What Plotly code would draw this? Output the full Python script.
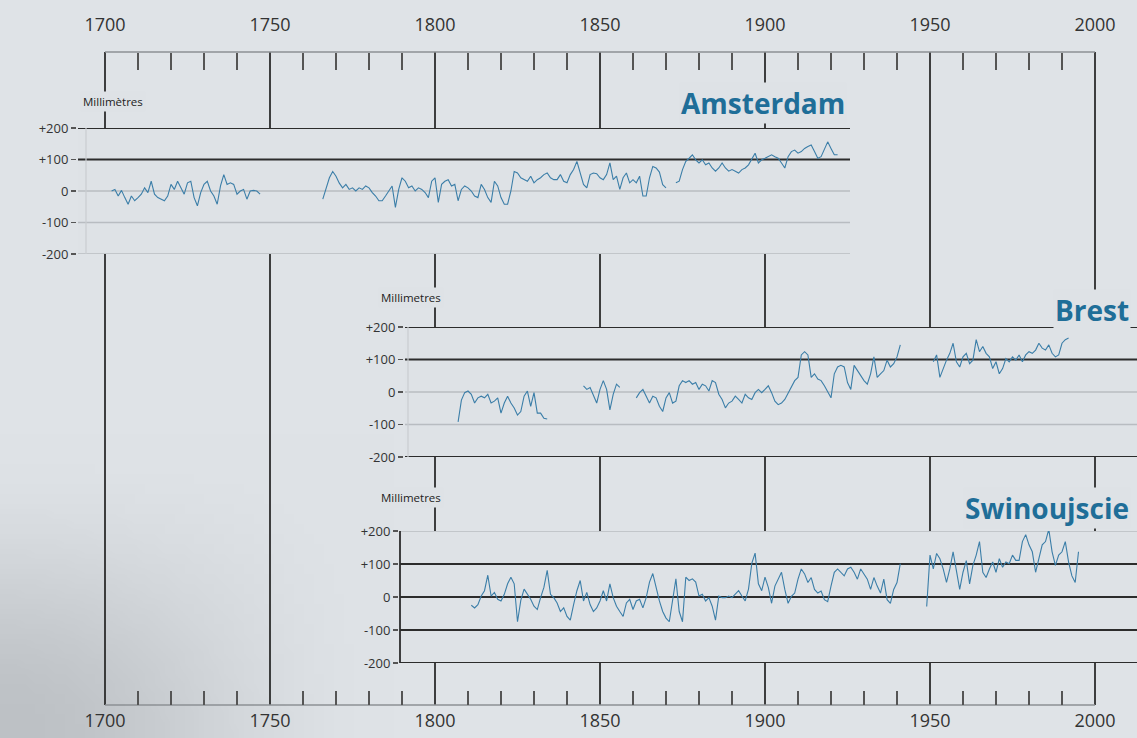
import base64
import struct
import zlib
import plotly.graph_objects as go

# ---------------- data ----------------
MAJOR_YEARS = [1700, 1750, 1800, 1850, 1900, 1950, 2000]
MINOR_YEARS = [y for y in range(1710, 2000, 10) if y % 50 != 0]
Y_TICKS = [200, 100, 0, -100, -200]
Y_TICK_LABELS = ["+200", "+100", "0", "-100", "-200"]

AMS_START = [1702, 1766, 1873]
AMS_VALUES = [
    [0, 5, -16, 2, -21, -42, -16, -31, -21, -10, 10, -5, 31, -10, -21, -26, -31, -16, 21, 5,
     31, 10, -10, 26, 31, -21, -47, -5, 21, 31, 0, -16, -42, 16, 52, 21, 26, 21, -10, 0,
     5, -26, 0, 2, 0, -10],
    [-26, 10, 42, 62, 47, 25, 10, 21, 5, 10, 0, 10, 5, 16, 10, -5, -16, -31, -31, -16,
     0, 16, -52, 5, 42, 31, 10, 16, 0, 10, 5, -5, -21, 31, 42, -36, 21, 31, 36, 16,
     21, -31, 5, 16, 10, 0, -16, -21, 21, 5, -21, -36, 31, 16, -21, -42, -42, 0, 62, 57,
     42, 36, 31, 47, 26, 36, 42, 52, 57, 42, 36, 36, 52, 31, 26, 52, 68, 94, 57, 21,
     10, 52, 57, 55, 42, 36, 52, 89, 36, 47, 5, 42, 57, 26, 36, 26, 47, -16, -16, 42,
     78, 73, 60, 20, 10],
    [26, 31, 68, 94, 104, 115, 99, 89, 99, 83, 89, 73, 63, 73, 89, 73, 63, 68, 63, 57,
     68, 73, 83, 104, 120, 89, 99, 104, 109, 115, 109, 104, 89, 73, 109, 125, 130, 120, 125, 135,
     141, 146, 125, 104, 109, 135, 156, 135, 115, 115],
]

BREST_START = [1807, 1845, 1861, 1951]
BREST_VALUES = [
    [-92, -25, -2, 3, -7, -34, -18, -13, -18, -7, -34, -28, -18, -65, -34, -13, -34, -49, -71, -60,
     -13, 3, -44, -2, -65, -65, -81, -83],
    [19, 8, 14, -13, -34, 8, 35, 8, -55, -7, 24, 14],
    [-18, -2, 8, -13, -34, -13, -18, -44, -60, -18, -2, -34, -28, 19, 35, 29, 35, 24, 29, 8,
     24, 19, 3, 35, 29, -7, -23, -49, -34, -28, -13, -23, -34, -7, -18, -23, -2, 8,
     -2, 8, 19, -2, -28, -39, -34, -23, -2, 19, 35, 45, 114, 124, 114, 45, 56, 40, 35, 19,
     -2, -18, 56, 77, 82, 77, 29, 8, 82, 66, 51, 35, 24, 56, 108, 45, 56, 66, 98, 77,
     87, 108, 145],
    [93, 114, 45, 72, 98, 119, 150, 93, 77, 108, 119, 87, 98, 161, 124, 140, 119, 108, 72, 93,
     56, 72, 103, 93, 108, 98, 114, 93, 114, 124, 119, 129, 150, 135, 129, 145, 119, 108, 114, 150,
     161, 166],
]

SWIN_START = [1811, 1949]
SWIN_VALUES = [
    [-25, -33, -23, 3, 19, 66, 3, 14, -7, -12, 8, 40, 60, 40, -75, -10, 24, 8, -7, -28,
     -38, -2, 29, 81, 8, -2, -18, -44, -33, -59, -70, -23, 19, 50, -12, 14, -23, -44, -33, -12,
     19, -12, 40, -2, -28, -44, -59, -18, -7, -38, -12, -7, -33, -2, 45, 71, 29, -12, -44, -64,
     -75, -2, 55, -44, -75, 60, 50, 55, 45, 3, 8, -12, -2, -28, -70, 3, -2, -2, 3, -2,
     8, 19, 3, -12, 24, 102, 133, 40, 19, 60, 29,
     -19, 33, 54, 75, 23, -19, 2, 12, 54, 85, 70, 44, 59, 23, 12, 18, -8, -14, 33, 75,
     85, 75, 64, 85, 90, 75, 54, 85, 70, 54, 23, 59, 33, 12, 54, -8, -19, 23, 44, 101],
    [-29, 127, 85, 132, 116, 85, 44, 85, 137, 75, 23, 75, 110, 40, 96, 127, 168, 75, 59, 85,
     106, 75, 116, 90, 106, 101, 127, 111, 111, 168, 189, 158, 137, 75, 116, 158, 168, 205, 137, 96,
     127, 137, 168, 106, 64, 44, 137],
]

AMS_DARK = [200, 100]
BREST_DARK = [200, 100, -200]
SWIN_DARK = [100, 0, -100, -200]

# ---------------- styling / layout ----------------
W, H = 1137, 738
BG = "#dee2e6"
DARK = "#2c2c2c"
LIGHT = "#b8bcc1"
SERIES = "#3b7ea8"
TITLE = "#1f6e98"
FONT = "Open Sans"

PX_PER_YEAR = 3.3
X_RANGE = [1700 - 105 / PX_PER_YEAR, 2000 + (W - 1095) / PX_PER_YEAR]


def px(x):
    return x / W


def py(y):
    return 1 - y / H


def build(starts, values):
    xs, ys = [], []
    for s, vals in zip(starts, values):
        if xs:
            xs.append(None)
            ys.append(None)
        xs.extend(range(s, s + len(vals)))
        ys.extend(vals)
    return xs, ys


def smooth(a, b, t):
    t = max(0.0, min(1.0, (t - a) / (b - a)))
    return t * t * (3 - 2 * t)


def png_uri(w, h):
    base = (223, 227, 231)
    rows = []
    for j in range(h):
        row = bytearray([0])
        v = j / (h - 1)
        for i in range(w):
            u = i / (w - 1)
            d = smooth(0.6, 1.0, v) * (1 - smooth(0.0, 0.34, u)) * 34
            row.extend(int(c - d) for c in base)
        rows.append(bytes(row))
    raw = b"".join(rows)

    def chunk(tag, data):
        c = struct.pack(">I", len(data)) + tag + data
        return c + struct.pack(">I", zlib.crc32(tag + data) & 0xFFFFFFFF)

    png = (b"\x89PNG\r\n\x1a\n"
           + chunk(b"IHDR", struct.pack(">IIBBBBB", w, h, 8, 2, 0, 0, 0))
           + chunk(b"IDAT", zlib.compress(raw, 9))
           + chunk(b"IEND", b""))
    return "data:image/png;base64," + base64.b64encode(png).decode()


panels = [
    ("Amsterdam", AMS_START, AMS_VALUES, "y", 78, 850, 128, 254, AMS_DARK),
    ("Brest", BREST_START, BREST_VALUES, "y2", 405, 1137, 327, 457, BREST_DARK),
    ("Swinoujscie", SWIN_START, SWIN_VALUES, "y3", 400, 1137, 531, 663, SWIN_DARK),
]

fig = go.Figure()
shapes = []

for yr in MAJOR_YEARS:
    shapes.append(dict(type="line", xref="x", yref="paper", x0=yr, x1=yr,
                       y0=py(705), y1=py(52), line=dict(color=DARK, width=1.8), layer="below"))
for yy in (52, 705):
    shapes.append(dict(type="line", xref="x", yref="paper", x0=1700, x1=2000,
                       y0=py(yy), y1=py(yy), line=dict(color="#8c9094", width=1.5), layer="below"))

layout_axes = {}
for idx, (name, starts, vals, yax, x0, x1, ytop, ybot, dark) in enumerate(panels):
    xs, ys = build(starts, vals)
    fig.add_trace(go.Scatter(x=xs, y=ys, mode="lines", xaxis="x", yaxis=yax,
                             line=dict(color=SERIES, width=1.1), connectgaps=False,
                             showlegend=False, hoverinfo="skip"))
    shapes.append(dict(type="rect", xref="paper", yref="paper", x0=px(x0), x1=px(x1),
                       y0=py(ybot), y1=py(ytop), fillcolor=BG, line=dict(width=0), layer="below"))
    for lev in Y_TICKS:
        is_dark = lev in dark
        shapes.append(dict(type="line", xref="paper", yref=yax, x0=px(x0), x1=px(x1),
                           y0=lev, y1=lev,
                           line=dict(color=DARK if is_dark else LIGHT, width=2 if is_dark else 1.5),
                           layer="below"))
    key = "yaxis" if idx == 0 else "yaxis%d" % (idx + 1)
    layout_axes[key] = dict(domain=[py(ybot), py(ytop)], range=[-200, 200], anchor="free",
                            position=px(x0 - 2), tickmode="array", tickvals=Y_TICKS,
                            ticktext=Y_TICK_LABELS, showgrid=False, zeroline=False,
                            showline=False, ticks="outside", ticklen=5, tickwidth=1.5,
                            tickcolor="#555", tickfont=dict(family=FONT, size=13, color="#333"),
                            automargin=False, fixedrange=True)

shapes.append(dict(type="line", xref="paper", yref="paper", x0=px(86), x1=px(86),
                   y0=py(254), y1=py(128), line=dict(color="#c9cdd1", width=1.2), layer="below"))
shapes.append(dict(type="line", xref="paper", yref="paper", x0=px(408), x1=px(408),
                   y0=py(457), y1=py(327), line=dict(color="#c9cdd1", width=1.2), layer="below"))
shapes.append(dict(type="line", xref="paper", yref="paper", x0=px(400), x1=px(400),
                   y0=py(663), y1=py(531), line=dict(color=DARK, width=1.8), layer="below"))

fig.add_trace(go.Scatter(x=[None], y=[None], xaxis="x2", yaxis="y", showlegend=False,
                         hoverinfo="skip"))

xcommon = dict(range=X_RANGE, domain=[0, 1], anchor="free", tickmode="array",
               tickvals=MAJOR_YEARS, ticktext=[str(v) for v in MAJOR_YEARS],
               showgrid=False, zeroline=False, showline=False, ticks="",
               tickfont=dict(family=FONT, size=18, color="#333"), automargin=False,
               fixedrange=True)

fig.update_layout(
    width=W, height=H, margin=dict(l=0, r=0, t=0, b=0, pad=0), autosize=False,
    paper_bgcolor=BG, plot_bgcolor="rgba(0,0,0,0)", hovermode=False,
    xaxis=dict(xcommon, side="top", position=py(52), ticklabelstandoff=17,
               minor=dict(tickmode="array", tickvals=MINOR_YEARS, ticks="inside",
                          ticklen=17, tickwidth=1.5, tickcolor="#555")),
    xaxis2=dict(xcommon, side="bottom", position=py(705), overlaying="x", ticklabelstandoff=3,
                minor=dict(tickmode="array", tickvals=MINOR_YEARS, ticks="inside",
                           ticklen=14, tickwidth=1.5, tickcolor="#555")),
    shapes=shapes,
    images=[dict(source=png_uri(114, 74), xref="paper", yref="paper", x=0, y=1,
                 sizex=1, sizey=1, xanchor="left", yanchor="top", sizing="stretch",
                 layer="below")],
    **layout_axes,
)

annotations = [
    dict(text="Millimètres", x=px(80), y=py(102)),
    dict(text="Millimetres", x=px(378), y=py(297)),
    dict(text="Millimetres", x=px(378), y=py(497)),
]
for a in annotations:
    a.update(xref="paper", yref="paper", xanchor="left", yanchor="middle", showarrow=False,
             font=dict(family=FONT, size=11.5, color="#222"), bgcolor=BG, borderpad=2)
titles = [
    dict(text="<b>Amsterdam</b>", x=px(847), y=py(103)),
    dict(text="<b>Brest</b>", x=px(1131), y=py(310)),
    dict(text="<b>Swinoujscie</b>", x=px(1131), y=py(508)),
]
for t in titles:
    t.update(xref="paper", yref="paper", xanchor="right", yanchor="middle", showarrow=False,
             font=dict(family=FONT, size=28, color=TITLE), bgcolor=BG, borderpad=1)
fig.update_layout(annotations=annotations + titles)

fig.write_html("out.html", config={"displayModeBar": False, "staticPlot": True},
               post_script="document.body.style.margin='0';document.body.style.overflow='hidden';")
